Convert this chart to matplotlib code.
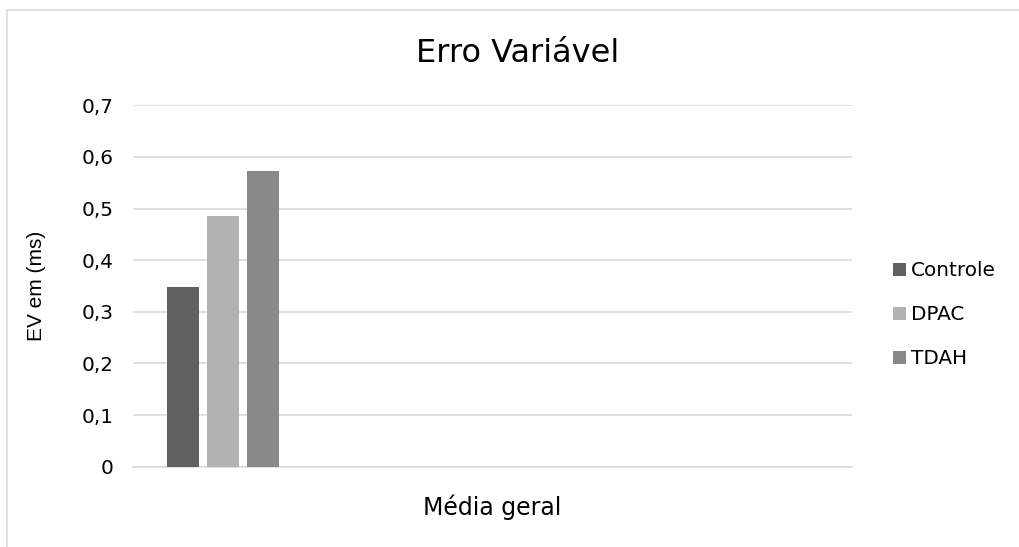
import matplotlib
matplotlib.use("Agg")
import matplotlib.pyplot as plt
from matplotlib.patches import Rectangle
from matplotlib.ticker import FuncFormatter

# Data
categories = ["Média geral"]
series = ["Controle", "DPAC", "TDAH"]
values = [0.348, 0.485, 0.572]
colors = ["#606060", "#b2b2b2", "#898989"]
y_ticks = [0, 0.1, 0.2, 0.3, 0.4, 0.5, 0.6, 0.7]

title = "Erro Variável"
y_label = "EV em (ms)"

plt.rcParams["font.family"] = ["DejaVu Sans"]

W, H = 1020, 547
fig = plt.figure(figsize=(W / 100, H / 100), dpi=100)
fig.patch.set_facecolor("white")

ax_left, ax_right = 133 / W, 852 / W
ax_top, ax_bottom = 1 - 105.3 / H, 1 - 466.7 / H
ax = fig.add_axes([ax_left, ax_bottom, ax_right - ax_left, ax_top - ax_bottom])

# Bar group placed inside the single category slot
group_center = 0.1256
step = 0.0556
bar_width = 0.0445
for i, (name, val, col) in enumerate(zip(series, values, colors)):
    x = group_center + (i - (len(series) - 1) / 2) * step
    ax.bar(x, val, width=bar_width, color=col, label=name, zorder=3)

ax.set_xlim(0, 1)
ax.set_ylim(0, 0.7)
ax.set_yticks(y_ticks)
ax.yaxis.set_major_formatter(FuncFormatter(lambda v, p: ("%g" % round(v, 2)).replace(".", ",")))
ax.set_xticks([0.5])
ax.set_xticklabels(categories)

ax.grid(axis="y", color="#d9d9d9", linewidth=1.1, zorder=0)
ax.set_axisbelow(True)
for side in ["left", "right", "top"]:
    ax.spines[side].set_visible(False)
ax.spines["bottom"].set_color("#d9d9d9")
ax.spines["bottom"].set_linewidth(1.1)

ax.tick_params(axis="y", length=0, pad=14, labelsize=14.4, labelcolor="black")
ax.tick_params(axis="x", length=0, pad=20, labelsize=17, labelcolor="black")

# Titles
fig.text(517.5 / W, 1 - 53 / H, title, ha="center", va="center", fontsize=23, color="black")
fig.text(37 / W, 1 - 286 / H, y_label, ha="center", va="center", rotation=90,
         fontsize=15, color="black", family=["Liberation Sans", "DejaVu Sans"])

# Legend
leg = fig.legend(loc="center left", bbox_to_anchor=(893 / W, 1 - 315 / H),
                 frameon=False, fontsize=14.4, borderpad=0, borderaxespad=0,
                 handlelength=0.65, handleheight=0.65, handletextpad=0.25,
                 labelspacing=1.25)
for t in leg.get_texts():
    t.set_color("black")

# Chart area border
fig.add_artist(Rectangle((7 / W, -0.5), 2, 1 - 9.5 / H + 0.5, transform=fig.transFigure,
                         fill=False, edgecolor="#d9d9d9", linewidth=1.1, clip_on=False))

fig.savefig("out.png", dpi=100, facecolor="white")
